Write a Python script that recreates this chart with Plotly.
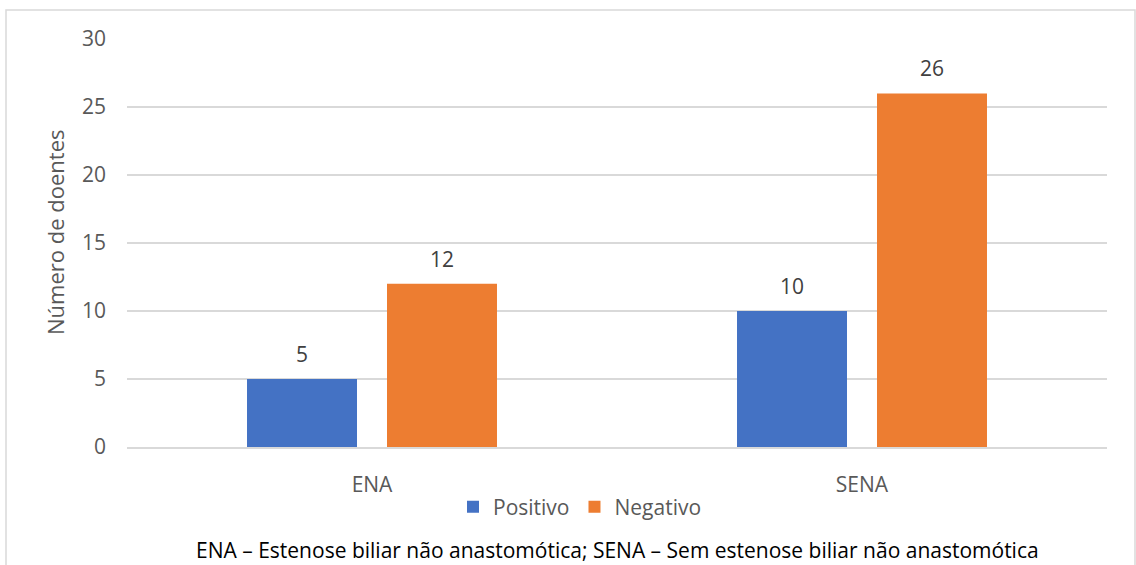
import plotly.graph_objects as go

categories = ["ENA", "SENA"]
positivo = [5, 10]
negativo = [12, 26]
series_names = ["Positivo", "Negativo"]
y_ticks = [0, 5, 10, 15, 20, 25, 30]
y_title = "Número de doentes"
footnote = "ENA – Estenose biliar não anastomótica; SENA – Sem estenose biliar não anastomótica"

W, H = 1136, 565
L, R, T, B = 127, 29, 39, 118
PW, PH = W - L - R, H - T - B

def px_x(p):
    return (p - L) / PW

def px_y(p):
    return (H - B - p) / PH

FONT = "Open Sans"
AXIS_GREY = "#595959"
BARGAP = 0.4286
GROUPGAP = 0.2143

fig = go.Figure()
fig.add_trace(go.Bar(x=categories, y=positivo, name=series_names[0],
                     marker=dict(color="#4472C4", line=dict(width=0))))
fig.add_trace(go.Bar(x=categories, y=negativo, name=series_names[1],
                     marker=dict(color="#ED7D31", line=dict(width=0))))

# value labels above each bar, shifted to the centre of each bar slot
annotations = []
slot = PW / len(categories) * (1 - BARGAP) / 2
for vals, shift in ((positivo, -slot / 2), (negativo, slot / 2)):
    for c, v in zip(categories, vals):
        annotations.append(dict(x=c, y=v, xref="x", yref="y", text=str(v),
                                showarrow=False, xshift=shift, yshift=9,
                                yanchor="bottom",
                                font=dict(family=FONT, size=21, color="#404040")))

# vertical axis title
annotations.append(dict(x=px_x(55), y=px_y(233), xref="paper", yref="paper",
                        text=y_title, textangle=-90, showarrow=False,
                        xanchor="center", yanchor="middle",
                        font=dict(family=FONT, size=22, color=AXIS_GREY)))

annotations.append(dict(x=px_x(617), y=px_y(550), xref="paper", yref="paper",
                        text=footnote, showarrow=False, xanchor="center",
                        yanchor="middle",
                        font=dict(family=FONT, size=21, color="#000000")))

# outer chart frame (left, top, right)
shapes = [dict(type="path", xref="paper", yref="paper",
               path=f"M {px_x(6)},{px_y(570)} L {px_x(6)},{px_y(10)} "
                    f"L {px_x(1135)},{px_y(10)} L {px_x(1135)},{px_y(570)}",
               line=dict(color="#D9D9D9", width=1.5))]

fig.update_layout(
    width=W, height=H,
    margin=dict(l=L, r=R, t=T, b=B),
    paper_bgcolor="white", plot_bgcolor="white",
    barmode="group", bargap=BARGAP, bargroupgap=GROUPGAP,
    font=dict(family=FONT, size=21, color=AXIS_GREY),
    showlegend=True,
    legend=dict(orientation="h", x=px_x(580), y=px_y(507), xanchor="center",
                yanchor="middle", font=dict(family=FONT, size=21, color=AXIS_GREY),
                itemwidth=30, tracegroupgap=0, bgcolor="rgba(0,0,0,0)"),
    annotations=annotations,
    shapes=shapes,
)
fig.update_xaxes(showgrid=False, showline=True, linecolor="#D9D9D9", linewidth=1.5,
                 ticks="", tickfont=dict(family=FONT, size=21, color=AXIS_GREY),
                 ticklabelstandoff=18, fixedrange=True)
fig.update_yaxes(range=[0, 30], tickvals=y_ticks, showgrid=True,
                 gridcolor="#D9D9D9", gridwidth=1.5, zeroline=False, showline=False,
                 ticks="", tickfont=dict(family=FONT, size=21, color=AXIS_GREY),
                 ticklabelstandoff=20, fixedrange=True)

fig.write_html("out.html", config={"displayModeBar": False})
